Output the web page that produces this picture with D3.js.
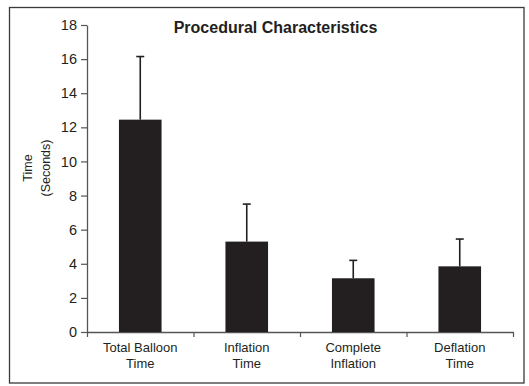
<!DOCTYPE html>
<html>
<head>
<meta charset="utf-8">
<script src="https://cdn.jsdelivr.net/npm/d3@7"></script>
<style>
  body { margin: 0; background: #fff; }
  svg text { font-family: "Liberation Sans", Arial, sans-serif; fill: #231f20; }
</style>
</head>
<body>
<div id="chart"></div>
<script>
// chart values
const categories = [["Total Balloon", "Time"], ["Inflation", "Time"], ["Complete", "Inflation"], ["Deflation", "Time"]];
const means = [12.45, 5.3, 3.15, 3.85];
const errUpper = [16.15, 7.5, 4.2, 5.45];
const yTicks = [0, 2, 4, 6, 8, 10, 12, 14, 16, 18];

const width = 529, height = 386;
const margin = { top: 25, right: 16, bottom: 54, left: 87 };

const svg = d3.select("#chart")
  .append("svg")
  .attr("width", width)
  .attr("height", height);

// outer frame
svg.append("rect")
  .attr("x", 9.5)
  .attr("y", 7.5)
  .attr("width", 514.5)
  .attr("height", 375.5)
  .attr("fill", "none")
  .attr("stroke", "#3a3a3a")
  .attr("stroke-width", 1.3);

const idx = categories.map((d, i) => i);
const x = d3.scaleBand()
  .domain(idx)
  .range([margin.left, width - margin.right])
  .paddingInner(0.6)
  .paddingOuter(0.3);

const xEdges = d3.scaleLinear()
  .domain([0, categories.length])
  .range([margin.left, width - margin.right]);

const y = d3.scaleLinear()
  .domain([0, 18])
  .range([height - margin.bottom, margin.top]);

// y axis
const yAxis = svg.append("g")
  .attr("transform", "translate(" + margin.left + ",0)")
  .call(d3.axisLeft(y).tickValues(yTicks).tickSize(6).tickSizeOuter(0).tickPadding(4));
yAxis.select(".domain").attr("stroke", "#555").attr("stroke-width", 1.3);
yAxis.selectAll(".tick line").attr("stroke", "#555").attr("stroke-width", 1.2);
yAxis.selectAll(".tick text")
  .style("font-size", "14.5px")
  .style("font-family", "'Liberation Sans', Arial, sans-serif")
  .attr("fill", "#231f20");

// x axis with ticks at category boundaries
const xAxis = svg.append("g")
  .attr("transform", "translate(0," + y(0) + ")")
  .call(d3.axisBottom(xEdges).tickValues(d3.range(categories.length + 1)).tickSize(5).tickSizeOuter(0).tickFormat(""));
xAxis.select(".domain").attr("stroke", "#555").attr("stroke-width", 1.3);
xAxis.selectAll(".tick line").attr("stroke", "#555").attr("stroke-width", 1.2);

// bars
svg.selectAll(".bar")
  .data(means)
  .enter()
  .append("rect")
  .attr("class", "bar")
  .attr("x", (d, i) => x(i))
  .attr("width", x.bandwidth())
  .attr("y", d => y(d))
  .attr("height", d => y(0) - y(d))
  .attr("fill", "#231f20");

// error bars (upper only)
const err = svg.selectAll(".err")
  .data(errUpper)
  .enter()
  .append("g")
  .attr("class", "err")
  .attr("stroke", "#231f20")
  .attr("stroke-width", 1.6);

err.append("line")
  .attr("x1", (d, i) => x(i) + x.bandwidth() / 2)
  .attr("x2", (d, i) => x(i) + x.bandwidth() / 2)
  .attr("y1", (d, i) => y(means[i]))
  .attr("y2", d => y(d));

err.append("line")
  .attr("x1", (d, i) => x(i) + x.bandwidth() / 2 - 4)
  .attr("x2", (d, i) => x(i) + x.bandwidth() / 2 + 4)
  .attr("y1", d => y(d))
  .attr("y2", d => y(d));

// category labels
const labels = svg.selectAll(".cat-label")
  .data(categories)
  .enter()
  .append("text")
  .attr("class", "cat-label")
  .attr("text-anchor", "middle")
  .style("font-size", "13px");

labels.selectAll("tspan")
  .data((d, i) => d.map(t => ({ t, i })))
  .enter()
  .append("tspan")
  .attr("x", d => x(d.i) + x.bandwidth() / 2)
  .attr("y", (d, j) => y(0) + 20 + j * 15.5)
  .text(d => d.t);

// y axis title
const yTitle = svg.append("text")
  .attr("transform", "translate(0,168) rotate(-90)")
  .attr("text-anchor", "middle")
  .style("font-size", "12.5px");
yTitle.append("tspan").attr("x", 0).attr("y", 32).text("Time");
yTitle.append("tspan").attr("x", 0).attr("y", 50).text("(Seconds)");

// chart title
svg.append("text")
  .attr("x", 275.5)
  .attr("y", 33)
  .attr("text-anchor", "middle")
  .style("font-size", "16px")
  .style("font-weight", "bold")
  .text("Procedural Characteristics");
</script>
</body>
</html>
